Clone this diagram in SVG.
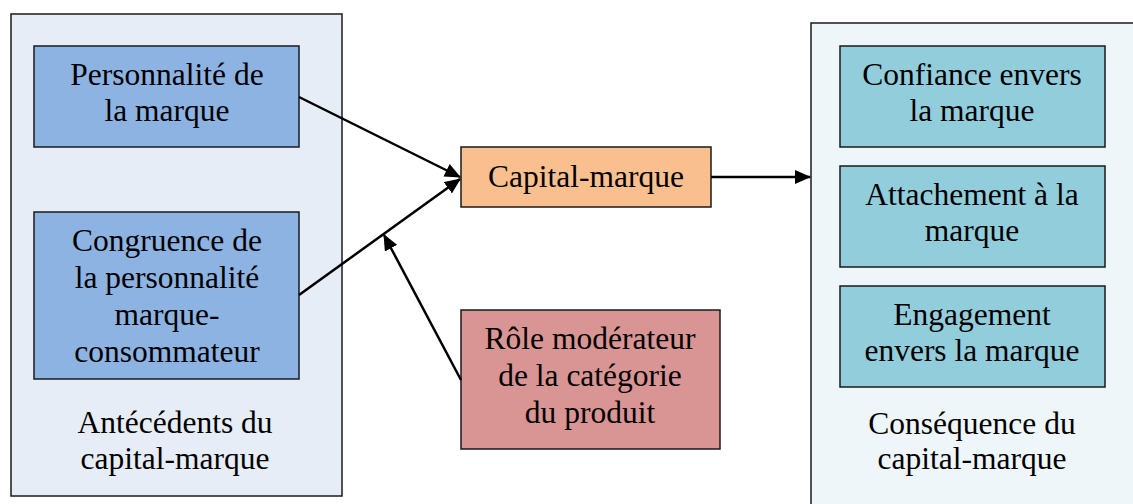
<svg xmlns="http://www.w3.org/2000/svg" width="1133" height="504" viewBox="0 0 1133 504">
<defs>
<style>
.t{font-family:'Liberation Serif','Times New Roman',Times,serif;font-size:31.5px;fill:#000;text-anchor:middle}
.box{stroke:#1a1a1a;stroke-width:1.5}
.c{stroke:#000;stroke-width:2.5;fill:none;marker-end:url(#ah)}
</style>
<marker id="ah" viewBox="0 0 16 14" refX="15" refY="7" markerWidth="16" markerHeight="14" markerUnits="userSpaceOnUse" orient="auto">
<path d="M0,0 L16,7 L0,14 z" fill="#000"/>
</marker>
</defs>
<rect width="1133" height="504" fill="#fff"/>
<g id="antecedents">
<rect class="box" x="11" y="14" width="331" height="482" fill="#E6EDF6"/>
<text class="t" x="175" y="433">Antécédents du</text>
<text class="t" x="175" y="469">capital-marque</text>
</g>
<g id="consequence">
<rect class="box" x="811" y="23" width="340" height="500" fill="#EFF6FA"/>
<text class="t" x="972" y="434">Conséquence du</text>
<text class="t" x="972" y="469">capital-marque</text>
</g>
<g id="personnalite">
<rect class="box" x="34" y="46" width="265" height="101" fill="#8DB3E2"/>
<text class="t" x="167" y="85">Personnalité de</text>
<text class="t" x="167" y="121">la marque</text>
</g>
<g id="congruence">
<rect class="box" x="34" y="212" width="265" height="167" fill="#8DB3E2"/>
<text class="t" x="167" y="251">Congruence de</text>
<text class="t" x="167" y="288">la personnalité</text>
<text class="t" x="167" y="325">marque-</text>
<text class="t" x="167" y="362">consommateur</text>
</g>
<g id="capital">
<rect class="box" x="461" y="147" width="250" height="60" fill="#FABF8F"/>
<text class="t" x="586" y="187">Capital-marque</text>
</g>
<g id="role">
<rect class="box" x="461" y="310" width="259" height="139" fill="#D99594"/>
<text class="t" x="590" y="349">Rôle modérateur</text>
<text class="t" x="590" y="386">de la catégorie</text>
<text class="t" x="590" y="423">du produit</text>
</g>
<g id="confiance">
<rect class="box" x="840" y="46" width="265" height="101" fill="#92CDDC"/>
<text class="t" x="972" y="85">Confiance envers</text>
<text class="t" x="972" y="121">la marque</text>
</g>
<g id="attachement">
<rect class="box" x="840" y="166" width="265" height="101" fill="#92CDDC"/>
<text class="t" x="972" y="205">Attachement à la</text>
<text class="t" x="972" y="241">marque</text>
</g>
<g id="engagement">
<rect class="box" x="840" y="286" width="265" height="101" fill="#92CDDC"/>
<text class="t" x="972" y="325">Engagement</text>
<text class="t" x="972" y="361">envers la marque</text>
</g>
<g id="connectors">
<path class="c" d="M299,97 L460,177"/>
<path class="c" d="M299,295 L460,179"/>
<path class="c" d="M461,380 L384,235"/>
<path class="c" d="M711,177 L810,177"/>
</g>
</svg>
